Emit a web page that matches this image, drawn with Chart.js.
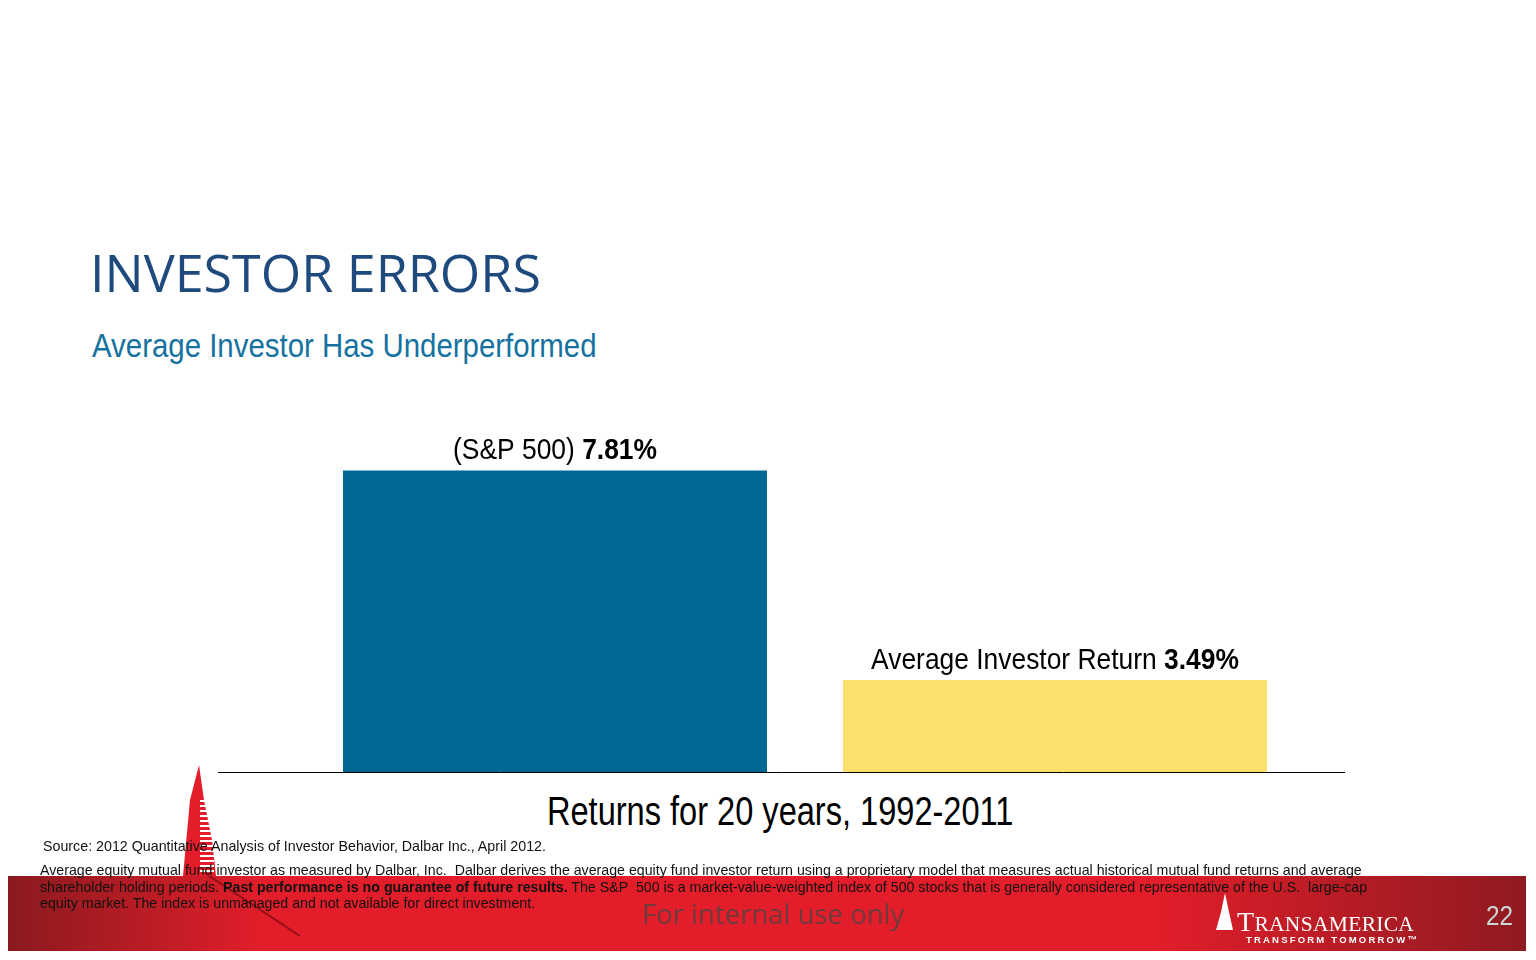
<!DOCTYPE html>
<html lang="en">
<head>
  <meta charset="UTF-8">
  <title>Investor Errors</title>
  <script src="https://cdn.jsdelivr.net/npm/chart.js"></script>
  <style>
    body { margin: 0; width: 1536px; height: 960px; background: #fff; overflow: hidden; position: relative; }
    .t { position: absolute; white-space: nowrap; transform-origin: left top; }
    .narrow { font-family: 'Liberation Sans', Arial, sans-serif; }
    #chart { position: absolute; left: 0; top: 0; }
  </style>
</head>
<body>
<div class="t" style="left:90px; top:236px; font-family:'Open Sans'; font-size:52px; color:#1f4a7e;">INVESTOR ERRORS</div>
<div class="t narrow" style="left:92px; top:326px; font-size:34px; color:#1572a0; transform:scaleX(0.865);">Average Investor Has Underperformed</div>
<div class="t narrow" style="left:547px; top:789px; font-size:40px; color:#000; transform:scaleX(0.814);">Returns for 20 years, 1992-2011</div>
<canvas id="chart" width="1536" height="960"></canvas>
<div class="t narrow" style="left:43px; top:837px; font-size:15px; color:#111; transform:scaleX(0.95);">Source: 2012 Quantitative Analysis of Investor Behavior, Dalbar Inc., April 2012.</div>
<div class="t narrow" style="left:40px; top:862px; font-size:15px; line-height:16.5px; color:#111; transform:scaleX(0.946);">
Average equity mutual fund investor as measured by Dalbar, Inc.&nbsp; Dalbar derives the average equity fund investor return using a proprietary model that measures actual historical mutual fund returns and average<br>
shareholder holding periods. <b>Past performance is no guarantee of future results.</b> The S&amp;P&nbsp; 500 is a market-value-weighted index of 500 stocks that is generally considered representative of the U.S.&nbsp; large-cap<br>
equity market. The index is unmanaged and not available for direct investment.</div>
<div class="t" style="left:642px; top:895px; font-family:'Open Sans'; font-size:27.5px; color:#6e3a3c;">For internal use only</div>
<div class="t" style="left:1237px; top:906px; font-family:'Liberation Serif'; font-size:28px; color:#fff; letter-spacing:0.3px;">T<span style="font-size:21.5px">RANSAMERICA</span></div>
<div class="t" style="left:1246px; top:934px; font-family:'Liberation Sans'; font-weight:bold; font-size:9.5px; letter-spacing:2.2px; color:#fff;">TRANSFORM TOMORROW&trade;</div>
<div class="t narrow" style="left:1486px; top:901px; font-size:27px; color:#c9d7d9; transform:scaleX(0.9);">22</div>

<script>
  // 데이터
  const categories = ['S&P 500', 'Average Investor'];
  const returns = [7.81, 3.49];
  const labelPrefix = ['(S&P 500) ', 'Average Investor Return '];
  const barColors = ['#006894', '#fddf6e'];

  const labelFont = "'Liberation Sans', Arial, sans-serif";
  const squeeze = 0.88;

  // 배경: 하단 빨간 띠, 타워 로고
  const backdrop = {
    id: 'backdrop',
    beforeDraw(chart) {
      const c = chart.ctx;
      c.save();
      const g = c.createLinearGradient(8, 0, 1526, 0);
      g.addColorStop(0, '#8a1a1e');
      g.addColorStop(0.17, '#e31e2a');
      g.addColorStop(0.75, '#e31e2a');
      g.addColorStop(1, '#8f1a20');
      c.fillStyle = g;
      c.fillRect(8, 876, 1518, 75);
      // 타워 그림자
      c.strokeStyle = 'rgba(110,10,15,0.7)';
      c.lineWidth = 2;
      c.beginPath(); c.moveTo(200, 870); c.lineTo(300, 936); c.stroke();
      // 타워
      c.fillStyle = '#e31e2a';
      c.beginPath();
      c.moveTo(199, 765); c.lineTo(204, 800); c.lineTo(212, 840); c.lineTo(216, 876);
      c.lineTo(183, 876); c.lineTo(190, 800); c.closePath(); c.fill();
      c.fillStyle = '#fff';
      for (let y = 800; y < 872; y += 5) c.fillRect(200, y, 14, 2);
      // 작은 흰 타워 (로고)
      c.beginPath();
      c.moveTo(1225, 893); c.lineTo(1229, 912); c.lineTo(1233, 930);
      c.lineTo(1216, 930); c.lineTo(1221, 912); c.closePath(); c.fill();
      c.restore();
    }
  };

  // 기준선과 막대 위 라벨
  const barLabels = {
    id: 'barLabels',
    afterDatasetsDraw(chart) {
      const c = chart.ctx;
      const yBase = chart.scales.y.bottom;
      c.save();
      c.strokeStyle = '#000';
      c.lineWidth = 1;
      c.beginPath(); c.moveTo(218, yBase + 0.5); c.lineTo(1345, yBase + 0.5); c.stroke();
      c.fillStyle = '#000';
      c.textBaseline = 'alphabetic';
      chart.getDatasetMeta(0).data.forEach((bar, i) => {
        const pre = labelPrefix[i];
        const val = returns[i].toFixed(2) + '%';
        c.font = '30px ' + labelFont;
        const w1 = c.measureText(pre).width;
        c.font = 'bold 30px ' + labelFont;
        const w2 = c.measureText(val).width;
        c.save();
        c.translate(bar.x - squeeze * (w1 + w2) / 2, bar.y - 11);
        c.scale(squeeze, 1);
        c.font = '30px ' + labelFont;
        c.fillText(pre, 0, 0);
        c.font = 'bold 30px ' + labelFont;
        c.fillText(val, w1, 0);
        c.restore();
      });
      c.restore();
    }
  };

  new Chart(document.getElementById('chart'), {
    type: 'bar',
    data: {
      labels: categories,
      datasets: [{
        data: returns,
        backgroundColor: barColors,
        borderWidth: 0,
        categoryPercentage: 1,
        barPercentage: 0.848
      }]
    },
    options: {
      responsive: false,
      animation: false,
      layout: { padding: { left: 305, right: 231, top: 420, bottom: 188 } },
      plugins: { legend: { display: false }, tooltip: { enabled: false } },
      scales: {
        x: { display: false },
        y: { display: false, min: 1.59, max: 8.85 }
      }
    },
    plugins: [backdrop, barLabels]
  });
</script>
</body>
</html>
